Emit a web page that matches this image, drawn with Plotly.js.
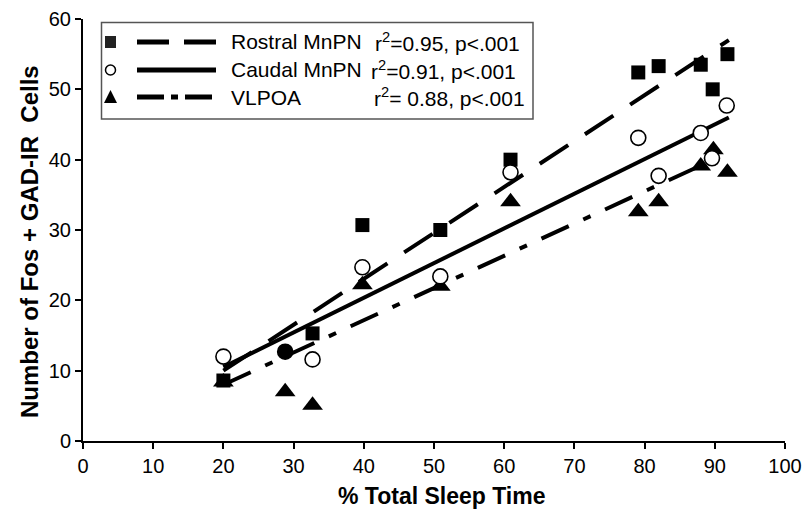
<!DOCTYPE html>
<html>
<head>
<meta charset="utf-8">
<script src="https://cdn.plot.ly/plotly-3.0.1.min.js"></script>
<style>html,body{margin:0;padding:0;background:#fff;}#chart{width:812px;height:515px;}</style>
</head>
<body>
<div id="chart"></div>
<script>
// ---- data ----
const rostralX = [20, 32.7, 39.8, 50.9, 60.9, 79.1, 82.0, 88.0, 89.7, 91.8];
const rostralY = [8.6, 15.3, 30.7, 30.0, 40.0, 52.4, 53.3, 53.5, 50.0, 55.0];
const caudalX = [20, 28.8, 32.7, 39.8, 50.9, 60.9, 79.1, 82.0, 88.0, 89.6, 91.7];
const caudalY = [12.0, 12.7, 11.6, 24.7, 23.4, 38.2, 43.1, 37.7, 43.8, 40.2, 47.7];
const caudalFill = ['#fff', '#000', '#fff', '#fff', '#fff', '#fff', '#fff', '#fff', '#fff', '#fff', '#fff'];
const vlpoaX = [20, 28.8, 32.7, 39.8, 50.9, 60.9, 79.1, 82.0, 88.0, 89.8, 91.8];
const vlpoaY = [8.4, 7.0, 5.1, 22.2, 22.0, 34.0, 32.6, 34.0, 39.1, 41.4, 38.2];
const fitX = [20, 92];
const rostralFit = [10.0, 57.0];
const caudalFit = [10.5, 46.0];
const vlpoaFit = [8.0, 41.0];
const seriesNames = ['Rostral MnPN', 'Caudal MnPN', 'VLPOA'];
const seriesStats = ['r<sup>2</sup>=0.95, p<.001', 'r<sup>2</sup>=0.91, p<.001', 'r<sup>2</sup>= 0.88, p<.001'];
const xTicks = [0, 10, 20, 30, 40, 50, 60, 70, 80, 90, 100];
const yTicks = [0, 10, 20, 30, 40, 50, 60];
const xTitle = '% Total Sleep Time';
const yTitle = 'Number of Fos + GAD-IR  Cells';

const FONT = 'Liberation Sans, Arial, sans-serif';
const dashR = '34px,20px';
const dashV = '30px,16px,8px,16px';

const traces = [
  {x: fitX, y: rostralFit, mode: 'lines', line: {color: '#000', width: 4, dash: dashR}, hoverinfo: 'skip'},
  {x: fitX, y: caudalFit, mode: 'lines', line: {color: '#000', width: 4}, hoverinfo: 'skip'},
  {x: fitX, y: vlpoaFit, mode: 'lines', line: {color: '#000', width: 4, dash: dashV}, hoverinfo: 'skip'},
  {x: rostralX, y: rostralY, mode: 'markers', name: seriesNames[0],
   marker: {symbol: 'square', size: 14, color: '#000', line: {width: 0}}},
  {x: vlpoaX, y: vlpoaY, mode: 'markers', name: seriesNames[2],
   marker: {symbol: 'triangle-up', size: 18, color: '#000', line: {width: 0}}},
  {x: caudalX, y: caudalY, mode: 'markers', name: seriesNames[1],
   marker: {symbol: 'circle', size: 15, color: caudalFill, line: {width: 1.6, color: '#000'}}}
];

// legend geometry (pixels -> paper)
const L = 83, R = 785, B = 441, T = 19;
const px = v => (v - L) / (R - L);
const py = v => (B - v) / (B - T);
const rowsY = [42, 70, 97];
const shapes = [
  {type: 'rect', xref: 'paper', yref: 'paper', x0: px(101.5), x1: px(533), y0: py(22.5), y1: py(119),
   line: {color: '#555', width: 1.5}, fillcolor: 'rgba(0,0,0,0)'},
  {type: 'rect', xref: 'paper', yref: 'paper', x0: px(105), x1: px(116), y0: py(rowsY[0] - 6), y1: py(rowsY[0] + 6),
   line: {width: 0}, fillcolor: '#222'},
  {type: 'circle', xref: 'paper', yref: 'paper', x0: px(105.5), x1: px(115.5), y0: py(rowsY[1] - 5), y1: py(rowsY[1] + 5),
   line: {color: '#000', width: 1.5}, fillcolor: '#fff'},
  {type: 'path', xref: 'paper', yref: 'paper',
   path: 'M' + px(104) + ',' + py(rowsY[2] + 6) + ' L' + px(117) + ',' + py(rowsY[2] + 6) + ' L' + px(110.5) + ',' + py(rowsY[2] - 7) + ' Z',
   line: {width: 0}, fillcolor: '#000'},
  {type: 'line', xref: 'paper', yref: 'paper', x0: px(137), x1: px(216), y0: py(rowsY[0]), y1: py(rowsY[0]),
   line: {color: '#000', width: 5, dash: '32px,15px'}},
  {type: 'line', xref: 'paper', yref: 'paper', x0: px(137), x1: px(216), y0: py(rowsY[1]), y1: py(rowsY[1]),
   line: {color: '#000', width: 5}},
  {type: 'line', xref: 'paper', yref: 'paper', x0: px(137), x1: px(216), y0: py(rowsY[2]), y1: py(rowsY[2]),
   line: {color: '#000', width: 5, dash: '27px,7px,7px,7px'}}
];
const statX = [373, 369, 372];
const annotations = [];
for (let i = 0; i < 3; i++) {
  annotations.push({xref: 'paper', yref: 'paper', x: px(229), y: py(rowsY[i]), xanchor: 'left', yanchor: 'middle',
    text: seriesNames[i], showarrow: false, font: {family: FONT, size: 21, color: '#000'}});
  annotations.push({xref: 'paper', yref: 'paper', x: px(statX[i]), y: py(rowsY[i]), xanchor: 'left', yanchor: 'middle',
    text: seriesStats[i], showarrow: false, font: {family: FONT, size: 21, color: '#000'}});
}
annotations.push({xref: 'paper', yref: 'paper', x: px(441), y: py(496), xanchor: 'center', yanchor: 'middle',
  text: '<b>' + xTitle + '</b>', showarrow: false, font: {family: FONT, size: 23, color: '#000'}});
annotations.push({xref: 'paper', yref: 'paper', x: px(29), y: py(242), xanchor: 'center', yanchor: 'middle', textangle: -90,
  text: '<b>' + yTitle + '</b>', showarrow: false, font: {family: FONT, size: 24, color: '#000'}});

const layout = {
  width: 812, height: 515,
  margin: {l: L, r: 812 - R, t: T, b: 515 - B, pad: 0},
  paper_bgcolor: '#fff', plot_bgcolor: '#fff',
  showlegend: false,
  font: {family: FONT, color: '#000'},
  xaxis: {
    range: [0, 100], tickvals: xTicks, ticktext: xTicks.map(String),
    showgrid: false, zeroline: false, showline: true, linecolor: '#000', linewidth: 2,
    ticks: 'outside', ticklen: 6, tickwidth: 2, tickcolor: '#000',
    tickfont: {family: FONT, size: 20, color: '#000'}
  },
  yaxis: {
    range: [0, 60], tickvals: yTicks, ticktext: yTicks.map(String),
    showgrid: false, zeroline: false, showline: true, linecolor: '#000', linewidth: 2,
    ticks: 'outside', ticklen: 6, tickwidth: 2, tickcolor: '#000',
    tickfont: {family: FONT, size: 20, color: '#000'}
  },
  shapes: shapes,
  annotations: annotations
};

Plotly.newPlot('chart', traces, layout, {displayModeBar: false, staticPlot: true});
</script>
</body>
</html>
